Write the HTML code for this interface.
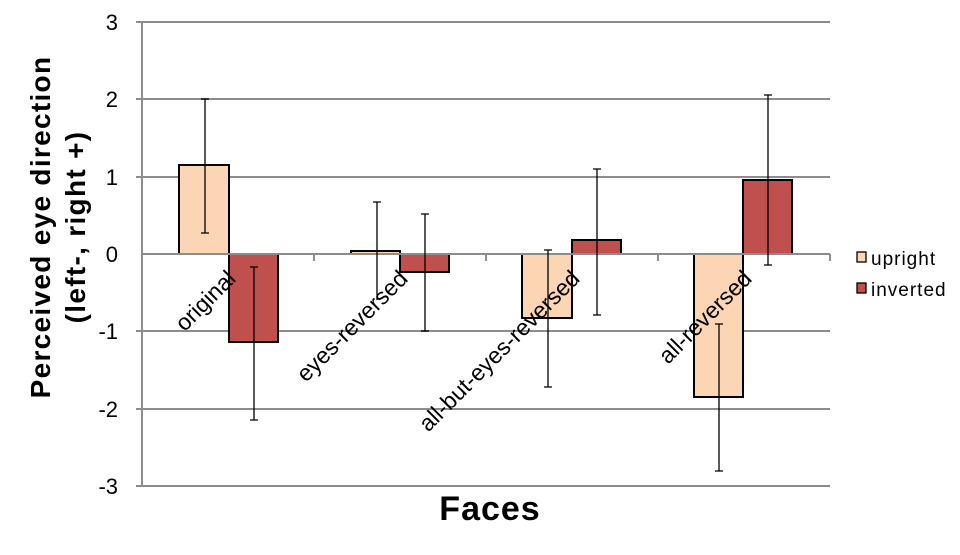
<!DOCTYPE html>
<html><head><meta charset="utf-8"><style>
html,body{margin:0;padding:0;background:#fff;}
</style></head><body>
<svg width="960" height="550" viewBox="0 0 960 550" xmlns="http://www.w3.org/2000/svg" font-family="Liberation Sans, Arial, sans-serif">
<g stroke="#8c8c8c" stroke-width="2">
<line x1="136" y1="22" x2="830" y2="22"/>
<line x1="136" y1="99" x2="830" y2="99"/>
<line x1="136" y1="177" x2="830" y2="177"/>
<line x1="136" y1="331" x2="830" y2="331"/>
<line x1="136" y1="409" x2="830" y2="409"/>
<line x1="136" y1="486" x2="830" y2="486"/>
<line x1="142" y1="22" x2="142" y2="486"/>
</g>
<g font-size="22" text-anchor="end" fill="#000">
<text x="118" y="30">3</text>
<text x="118" y="107">2</text>
<text x="118" y="185">1</text>
<text x="118" y="262">0</text>
<text x="118" y="339">-1</text>
<text x="118" y="417">-2</text>
<text x="118" y="494">-3</text>
</g>
<g stroke="#000" stroke-width="2">
<rect x="179" y="165" width="50" height="89" fill="#fcd5b5"/>
<rect x="229" y="254" width="49" height="88" fill="#c0504d"/>
<rect x="351" y="251" width="49" height="3" fill="#fcd5b5"/>
<rect x="400" y="254" width="49" height="18" fill="#c0504d"/>
<rect x="522" y="254" width="50" height="64" fill="#fcd5b5"/>
<rect x="572" y="240" width="49" height="14" fill="#c0504d"/>
<rect x="694" y="254" width="49" height="143" fill="#fcd5b5"/>
<rect x="743" y="180" width="49" height="74" fill="#c0504d"/>
</g>
<g stroke="#8c8c8c" stroke-width="2">
<line x1="142" y1="254" x2="830" y2="254"/>
<line x1="314" y1="254" x2="314" y2="261"/>
<line x1="486" y1="254" x2="486" y2="261"/>
<line x1="658" y1="254" x2="658" y2="261"/>
<line x1="830" y1="254" x2="830" y2="261"/>
</g>
<g stroke="#000" stroke-width="1.3">
<path d="M205 99V233M201 99h8M201 233h8"/>
<path d="M254 267V420M250 267h8M250 420h8"/>
<path d="M377 202V300M373 202h8"/>
<path d="M425 214V331M421 214h8M421 331h8"/>
<path d="M548 250V387M544 250h8M544 387h8"/>
<path d="M597 169V315M593 169h8M593 315h8"/>
<path d="M719 324V471M715 324h8M715 471h8"/>
<path d="M768 95V265M764 95h8M764 265h8"/>
</g>
<g font-size="23" text-anchor="end" fill="#000">
<text transform="translate(237,280) rotate(-45)">original</text>
<text transform="translate(409,280) rotate(-45)">eyes-reversed</text>
<text transform="translate(581,280) rotate(-45)">all-but-eyes-reversed</text>
<text transform="translate(753,280) rotate(-45)">all-reversed</text>
</g>
<text transform="translate(50,227) rotate(-90)" text-anchor="middle" font-size="28" font-weight="bold" letter-spacing="1.3">Perceived eye direction</text>
<text transform="translate(85,227) rotate(-90)" text-anchor="middle" font-size="28" font-weight="bold" letter-spacing="1.3">(left-, right +)</text>
<text x="490" y="520" text-anchor="middle" font-size="34" font-weight="bold" letter-spacing="1">Faces</text>
<rect x="857" y="252" width="9" height="10" fill="#fcd5b5" stroke="#000" stroke-width="1.3"/>
<rect x="857" y="283" width="9" height="10" fill="#c0504d" stroke="#000" stroke-width="1.3"/>
<g font-size="19" letter-spacing="1">
<text x="871" y="265">upright</text>
<text x="871" y="296">inverted</text>
</g>
</svg>
</body></html>
